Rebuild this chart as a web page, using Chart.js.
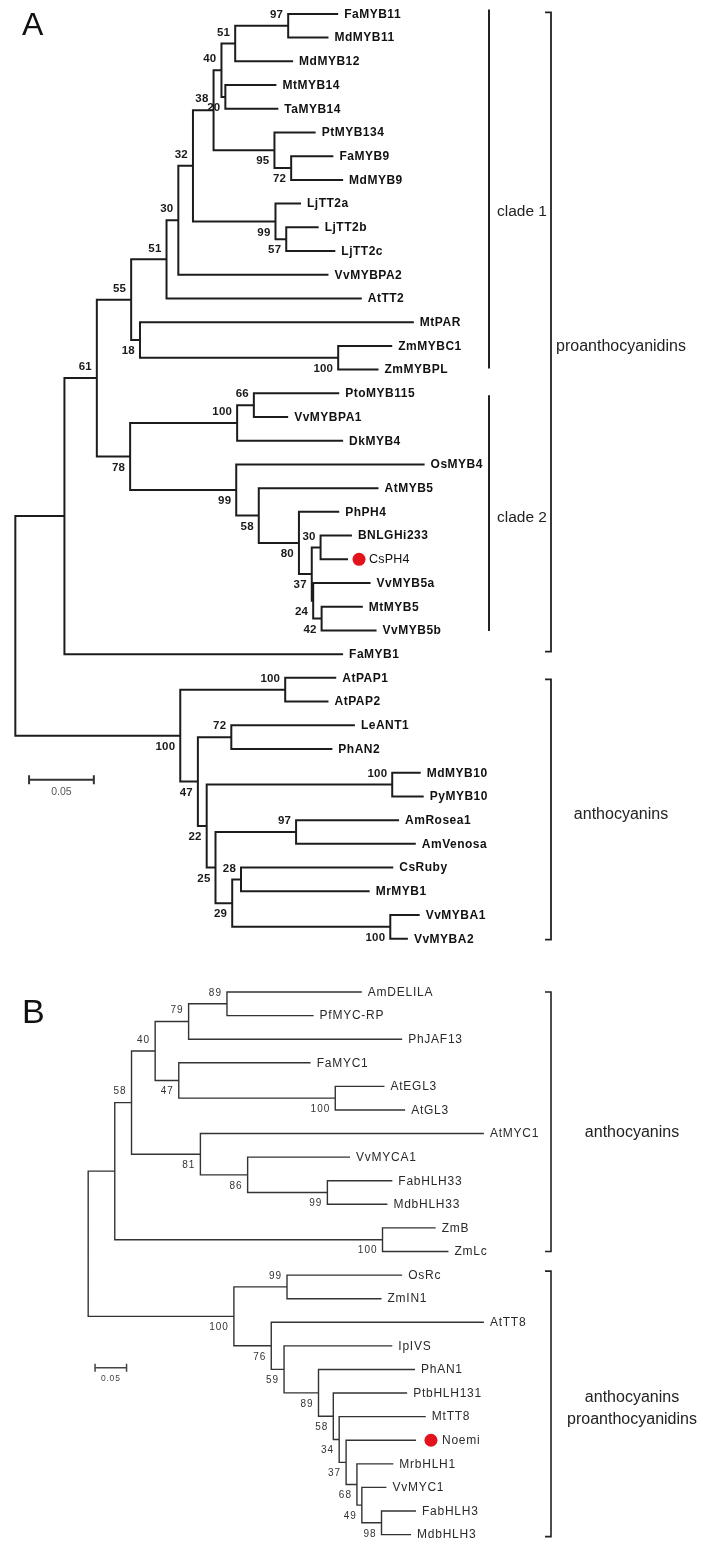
<!DOCTYPE html>
<html>
<head>
<meta charset="utf-8">
<script src="https://cdn.jsdelivr.net/npm/chart.js@4.4.1/dist/chart.umd.min.js"></script>
<style>
  html, body { margin: 0; padding: 0; background: #ffffff; }
  #wrap { position: relative; width: 703px; height: 1546px; background: #fff; }
  canvas { position: absolute; left: 0; }
</style>
</head>
<body>
<div id="wrap">
  <canvas id="chartA" width="703" height="960" style="top:0px"></canvas>
  <canvas id="chartB" width="703" height="586" style="top:960px"></canvas>
</div>
<script>
// ---------------- DATA: tree A (MYB) ----------------
const leavesA = ['FaMYB11','MdMYB11','MdMYB12','MtMYB14','TaMYB14','PtMYB134','FaMYB9','MdMYB9',
  'LjTT2a','LjTT2b','LjTT2c','VvMYBPA2','AtTT2','MtPAR','ZmMYBC1','ZmMYBPL','PtoMYB115','VvMYBPA1',
  'DkMYB4','OsMYB4','AtMYB5','PhPH4','BNLGHi233','CsPH4','VvMYB5a','MtMYB5','VvMYB5b','FaMYB1',
  'AtPAP1','AtPAP2','LeANT1','PhAN2','MdMYB10','PyMYB10','AmRosea1','AmVenosa','CsRuby','MrMYB1',
  'VvMYBA1','VvMYBA2'];
// distance from root of each leaf tip
const leafDepthA = [0.2492,0.2417,0.2144,0.2015,0.2030,0.2318,0.2455,0.2530,0.2205,0.2341,0.2470,
  0.2417,0.2674,0.3076,0.2909,0.2803,0.2500,0.2106,0.2530,0.3159,0.2803,0.2500,0.2598,0.2568,0.2742,
  0.2682,0.2788,0.2530,0.2477,0.2417,0.2621,0.2447,0.3129,0.3152,0.2962,0.3091,0.2917,0.2735,0.3121,0.3030];
// internal nodes: [id, child 1, child 2, distance from root, bootstrap]
const nodesA = [
  ['n97a','FaMYB11','MdMYB11',0.2106,97],
  ['n51a','n97a','MdMYB12',0.1697,51],
  ['n20','MtMYB14','TaMYB14',0.1621,20],
  ['n40','n51a','n20',0.1591,40],
  ['n72a','FaMYB9','MdMYB9',0.2129,72],
  ['n95','PtMYB134','n72a',0.2000,95],
  ['n38','n40','n95',0.1530,38],
  ['n57','LjTT2b','LjTT2c',0.2091,57],
  ['n99a','LjTT2a','n57',0.2008,99],
  ['n32','n38','n99a',0.1371,32],
  ['n30','n32','VvMYBPA2',0.1258,30],
  ['n51b','n30','AtTT2',0.1167,51],
  ['n100zm','ZmMYBC1','ZmMYBPL',0.2492,100],
  ['n18','MtPAR','n100zm',0.0962,18],
  ['n55','n51b','n18',0.0894,55],
  ['n66','PtoMYB115','VvMYBPA1',0.1841,66],
  ['n100p','n66','DkMYB4',0.1712,100],
  ['n30b','BNLGHi233','CsPH4',0.2356,30],
  ['n42','MtMYB5','VvMYB5b',0.2364,42],
  ['n24','VvMYB5a','n42',0.2299,24],
  ['n37','n30b','n24',0.2288,37],
  ['n80','PhPH4','n37',0.2189,80],
  ['n58a','AtMYB5','n80',0.1879,58],
  ['n99b','OsMYB4','n58a',0.1705,99],
  ['n78','n100p','n99b',0.0886,78],
  ['n61','n55','n78',0.0629,61],
  ['nP','n61','FaMYB1',0.0379,null],
  ['n100pap','AtPAP1','AtPAP2',0.2083,100],
  ['n72b','LeANT1','PhAN2',0.1667,72],
  ['n100md','MdMYB10','PyMYB10',0.2909,100],
  ['n97b','AmRosea1','AmVenosa',0.2167,97],
  ['n28','CsRuby','MrMYB1',0.1742,28],
  ['n100vv','VvMYBA1','VvMYBA2',0.2894,100],
  ['n29','n28','n100vv',0.1674,29],
  ['n25','n97b','n29',0.1545,25],
  ['n22','n100md','n25',0.1477,22],
  ['n47','n72b','n22',0.1409,47],
  ['n100an','n100pap','n47',0.1273,100],
  ['rootA','nP','n100an',0,null]
];
const groupsA = [['clade 1','FaMYB11','ZmMYBPL'],['clade 2','PtoMYB115','VvMYB5b']];
const bracketsA = [['proanthocyanidins','FaMYB11','FaMYB1'],['anthocyanins','AtPAP1','VvMYBA2']];
const highlightA = ['CsPH4'];

// ---------------- DATA: tree B (bHLH) ----------------
const leavesB = ['AmDELILA','PfMYC-RP','PhJAF13','FaMYC1','AtEGL3','AtGL3','AtMYC1','VvMYCA1',
  'FabHLH33','MdbHLH33','ZmB','ZmLc','OsRc','ZmIN1','AtTT8','IpIVS','PhAN1','PtbHLH131','MtTT8',
  'Noemi','MrbHLH1','VvMYC1','FabHLH3','MdbHLH3'];
const leafDepthB = [0.4344,0.3578,0.4984,0.3531,0.4703,0.5031,0.6281,0.4156,0.4828,0.4750,0.5516,
  0.5719,0.4984,0.4656,0.6281,0.4828,0.5188,0.5063,0.5359,0.5203,0.4844,0.4734,0.5203,0.5125];
const nodesB = [
  ['b89','AmDELILA','PfMYC-RP',0.2203,89],
  ['b79','b89','PhJAF13',0.1594,79],
  ['b100e','AtEGL3','AtGL3',0.3922,100],
  ['b47','FaMYC1','b100e',0.1438,47],
  ['b40','b79','b47',0.1063,40],
  ['b99','FabHLH33','MdbHLH33',0.3797,99],
  ['b86','VvMYCA1','b99',0.2531,86],
  ['b81','AtMYC1','b86',0.1781,81],
  ['b58','b40','b81',0.0688,58],
  ['b100z','ZmB','ZmLc',0.4672,100],
  ['bX','b58','b100z',0.0422,null],
  ['b99o','OsRc','ZmIN1',0.3156,99],
  ['b98','FabHLH3','MdbHLH3',0.4656,98],
  ['b49','VvMYC1','b98',0.4344,49],
  ['b68','MrbHLH1','b49',0.4266,68],
  ['b37','Noemi','b68',0.4094,37],
  ['b34','MtTT8','b37',0.3984,34],
  ['b58b','PtbHLH131','b34',0.3891,58],
  ['b89b','PhAN1','b58b',0.3656,89],
  ['b59','IpIVS','b89b',0.3109,59],
  ['b76','AtTT8','b59',0.2906,76],
  ['b100c','b99o','b76',0.2313,100],
  ['rootB','bX','b100c',0,null]
];
const bracketsB = [['anthocyanins','AmDELILA','ZmLc'],['anthocyanins\nproanthocyanidins','OsRc','MdbHLH3']];
const highlightB = ['Noemi'];
const scaleBarValue = 0.05;

// ---------------- presentation (positions / styles) ----------------
const supportAboveA = ['n97a','n51a','n40','n38','n32','n30','n51b','n55','n66','n100p','n30b','n61',
  'n100pap','n72b','n100md','n97b','n28'];
const supportAboveB = ['b89','b79','b40','b58','b99o'];

function layoutTree(leaves, depths, nodes) {
  const pos = {};
  leaves.forEach((n, i) => { pos[n] = { x: depths[i], y: i, leaf: true }; });
  nodes.forEach(([id, a, b, d, bs]) => {
    pos[id] = { x: d, y: (pos[a].y + pos[b].y) / 2, a, b, bs };
  });
  return pos;
}
function branchData(pos, nodes) {
  const data = [];
  nodes.forEach(([id, a, b]) => {
    const n = pos[id], A = pos[a], B = pos[b];
    data.push({x: A.x, y: A.y}, {x: n.x, y: A.y}, {x: n.x, y: B.y}, {x: B.x, y: B.y}, {x: null, y: null});
  });
  return data;
}

const treePlugin = {
  id: 'treeLabels',
  afterDatasetsDraw(chart, args, o) {
    const ctx = chart.ctx;
    const xs = chart.scales.x, ys = chart.scales.y;
    const px = v => xs.getPixelForValue(v), py = v => ys.getPixelForValue(v);
    const pos = o.pos;
    ctx.save();
    ctx.textBaseline = 'middle';
    // leaf labels
    o.leaves.forEach(name => {
      const p = pos[name];
      const lx = px(p.x), ly = py(p.y);
      if (o.highlight.includes(name)) {
        ctx.fillStyle = o.dotColor;
        ctx.beginPath();
        ctx.arc(lx + o.dotOffset, ly, o.dotRadius, 0, Math.PI * 2);
        ctx.fill();
        ctx.font = o.hlFont; ctx.letterSpacing = o.hlSpacing;
        ctx.fillStyle = o.textColor; ctx.textAlign = 'left';
        ctx.fillText(name, lx + o.hlGap, ly + 0.5);
      } else {
        ctx.font = o.leafFont; ctx.letterSpacing = o.leafSpacing;
        ctx.fillStyle = o.textColor; ctx.textAlign = 'left';
        ctx.fillText(name, lx + o.leafGap, ly + 0.5);
      }
    });
    // bootstrap values
    ctx.font = o.bsFont; ctx.letterSpacing = o.bsSpacing; ctx.fillStyle = o.bsColor; ctx.textAlign = 'right';
    o.nodes.forEach(([id]) => {
      const n = pos[id];
      if (n.bs === null || n.bs === undefined) return;
      const up = o.above.includes(id);
      ctx.fillText(String(n.bs), px(n.x) - o.bsDx, py(n.y) + (up ? -o.bsDy : o.bsDy));
    });
    // scale bar label
    ctx.font = o.sbFont; ctx.letterSpacing = o.sbSpacing; ctx.fillStyle = o.sbColor; ctx.textAlign = 'center';
    ctx.fillText(String(o.sb.value), (px(o.sb.x) + px(o.sb.x + o.sb.value)) / 2, py(o.sb.row) + o.sbDy);
    // panel letter
    ctx.letterSpacing = '0px';
    ctx.font = o.letterFont; ctx.fillStyle = '#111'; ctx.textAlign = 'left'; ctx.textBaseline = 'alphabetic';
    ctx.fillText(o.letter, o.letterX, o.letterY);
    ctx.textBaseline = 'middle';
    // clade bars
    ctx.strokeStyle = o.annColor; ctx.lineCap = 'butt'; ctx.lineJoin = 'miter';
    (o.groups || []).forEach(([label, first, last], i) => {
      const y0 = py(pos[first].y) + o.groupPad[i][0], y1 = py(pos[last].y) + o.groupPad[i][1];
      ctx.lineWidth = o.groupWidth;
      ctx.beginPath(); ctx.moveTo(o.groupX, y0); ctx.lineTo(o.groupX, y1); ctx.stroke();
      ctx.font = o.groupFont; ctx.letterSpacing = '0px'; ctx.fillStyle = o.annText; ctx.textAlign = 'left';
      ctx.fillText(label, o.groupTextX, py(o.groupRows[i]));
    });
    // brackets
    o.brackets.forEach(([label, first, last], i) => {
      const y0 = py(pos[first].y) + o.bracketPad[i][0], y1 = py(pos[last].y) + o.bracketPad[i][1];
      ctx.lineWidth = o.bracketWidth;
      ctx.beginPath();
      ctx.moveTo(o.bracketX - o.tick, y0); ctx.lineTo(o.bracketX, y0);
      ctx.lineTo(o.bracketX, y1); ctx.lineTo(o.bracketX - o.tick, y1);
      ctx.stroke();
      ctx.font = o.bracketFont; ctx.letterSpacing = o.bracketSpacing; ctx.fillStyle = o.annText; ctx.textAlign = 'center';
      const lines = label.split('\n');
      const cy = py(o.bracketRows[i]);
      lines.forEach((t, k) => {
        ctx.fillText(t, o.bracketTextX, cy + (k - (lines.length - 1) / 2) * o.lineH);
      });
    });
    ctx.restore();
  }
};

function makeTree(canvasId, cfg) {
  const pos = layoutTree(cfg.leaves, cfg.depths, cfg.nodes);
  const sb = cfg.sb;
  return new Chart(document.getElementById(canvasId), {
    type: 'scatter',
    data: {
      datasets: [
        {
          data: branchData(pos, cfg.nodes),
          showLine: true, spanGaps: false, fill: false,
          borderColor: cfg.lineColor, borderWidth: cfg.lineWidth,
          borderCapStyle: 'butt', borderJoinStyle: 'miter',
          pointRadius: 0, pointHoverRadius: 0, tension: 0
        },
        {
          data: [{x: sb.x, y: sb.row}, {x: sb.x + sb.value, y: sb.row}],
          showLine: true, borderColor: cfg.sbLineColor, borderWidth: cfg.sbLineWidth,
          pointStyle: 'line', pointRotation: 90, pointRadius: cfg.sbTick,
          pointBorderColor: cfg.sbLineColor, pointBorderWidth: cfg.sbLineWidth,
          pointBackgroundColor: cfg.sbLineColor, pointHoverRadius: 0
        }
      ]
    },
    options: {
      responsive: false, animation: false, devicePixelRatio: 1, events: [],
      layout: { padding: 0 },
      scales: {
        x: { type: 'linear', min: cfg.xMin, max: cfg.xMax, bounds: 'data', display: false },
        y: { type: 'linear', min: cfg.yMin, max: cfg.yMax, bounds: 'data', reverse: true, display: false }
      },
      plugins: {
        legend: { display: false }, tooltip: { enabled: false },
        treeLabels: Object.assign({ pos, leaves: cfg.leaves, nodes: cfg.nodes, sb }, cfg.labels)
      }
    },
    plugins: [treePlugin]
  });
}

makeTree('chartA', {
  leaves: leavesA, depths: leafDepthA, nodes: nodesA,
  xMin: -9 / 1320, xMax: 694 / 1320, yMin: -0.312, yMax: 39.624,
  lineColor: '#1c1c1c', lineWidth: 2,
  sb: { x: 0.0106, row: 32.3, value: scaleBarValue },
  sbLineColor: '#333', sbLineWidth: 2, sbTick: 4.5,
  labels: {
    highlight: highlightA, dotColor: '#e3131b', dotOffset: 11, dotRadius: 6.5, hlGap: 21,
    hlFont: '12.5px "Liberation Sans", Arial, sans-serif', hlSpacing: '0.2px',
    leafFont: 'bold 12px "Liberation Sans", Arial, sans-serif', leafSpacing: '0.5px', leafGap: 6,
    textColor: '#111',
    bsFont: 'bold 11.5px "Liberation Sans", Arial, sans-serif', bsSpacing: '0.2px', bsColor: '#1a1a1a',
    bsDx: 5, bsDy: 11, above: supportAboveA,
    sbFont: '10.5px "Liberation Sans", Arial, sans-serif', sbSpacing: '0px', sbColor: '#555', sbDy: 12,
    letter: 'A', letterFont: '32px "Liberation Sans", Arial, sans-serif', letterX: 22, letterY: 35,
    annColor: '#222', annText: '#222',
    groups: groupsA, groupX: 489, groupWidth: 2, groupTextX: 497,
    groupPad: [[-4.5, -1], [2, 0.5]], groupRows: [8.34, 21.24],
    groupFont: '15.5px "Liberation Sans", Arial, sans-serif',
    brackets: bracketsA, bracketX: 551, tick: 6, bracketWidth: 1.8,
    bracketPad: [[-1.5, -2.5], [1.5, 1]], bracketRows: [14.04, 33.76], bracketTextX: 621,
    bracketFont: '16px "Liberation Sans", Arial, sans-serif', bracketSpacing: '0px', lineH: 22
  }
});

makeTree('chartB', {
  leaves: leavesB, depths: leafDepthB, nodes: nodesB,
  xMin: -84 / 640, xMax: 619 / 640, yMin: -1.123, yMax: 23.25,
  lineColor: '#333', lineWidth: 1.4,
  sb: { x: 0.0109, row: 15.93, value: scaleBarValue },
  sbLineColor: '#444', sbLineWidth: 1.5, sbTick: 4,
  labels: {
    highlight: highlightB, dotColor: '#e3131b', dotOffset: 15, dotRadius: 6.5, hlGap: 26,
    hlFont: '12px "Liberation Sans", Arial, sans-serif', hlSpacing: '0.75px',
    leafFont: '12px "Liberation Sans", Arial, sans-serif', leafSpacing: '0.75px', leafGap: 6,
    textColor: '#2a2a2a',
    bsFont: '10px "Liberation Sans", Arial, sans-serif', bsSpacing: '1px', bsColor: '#333',
    bsDx: 5, bsDy: 11, above: supportAboveB,
    sbFont: '8.5px "Liberation Sans", Arial, sans-serif', sbSpacing: '0.8px', sbColor: '#444', sbDy: 11,
    letter: 'B', letterFont: '34px "Liberation Sans", Arial, sans-serif', letterX: 22, letterY: 63,
    annColor: '#222', annText: '#222',
    groups: [],
    brackets: bracketsB, bracketX: 551, tick: 6, bracketWidth: 1.6,
    bracketPad: [[0, 0], [-4, 2]], bracketRows: [5.95, 17.65], bracketTextX: 632,
    bracketFont: '16px "Liberation Sans", Arial, sans-serif', bracketSpacing: '0px', lineH: 22
  }
});
</script>
</body>
</html>
